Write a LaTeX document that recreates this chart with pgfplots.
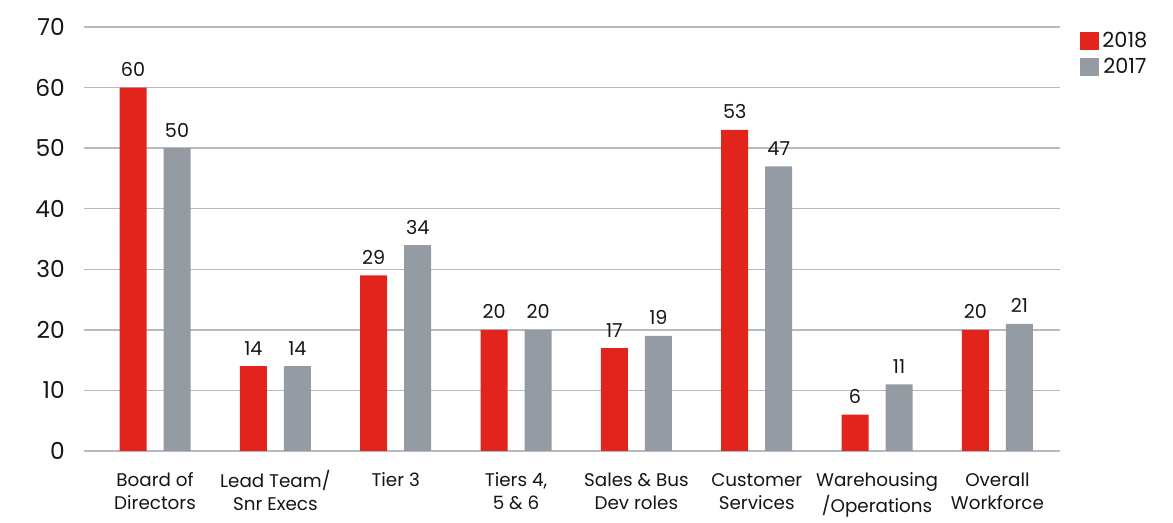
\documentclass[border=0pt]{standalone}
\usepackage{pgfplots}
\pgfplotsset{compat=1.18}
\usepackage{fontspec}
\setmainfont{Poppins}
\definecolor{barred}{HTML}{E2251C}
\definecolor{bargray}{HTML}{949BA2}
\definecolor{gridgray}{HTML}{B4BAC0}
\definecolor{txt}{HTML}{151515}

\begin{document}
\begin{tikzpicture}
\begin{axis}[
    scale only axis,
    width=585.6pt,
    height=254.4pt,
    ybar=10.2pt,
    bar width=16.2pt,
    ymin=0, ymax=70,
    xmin=-0.59, xmax=7.52,
    ytick={0,10,...,70},
    xtick={0,...,7},
    xticklabels={{\strut Board of\\Directors}, {\strut Lead Team/\\Snr Execs}, {\strut Tier 3}, {\strut Tiers 4,\\5 \& 6},
                 {\strut Sales \& Bus\\Dev roles}, {\strut Customer\\Services}, {\strut Warehousing\\/Operations},
                 {\strut Overall\\Workforce}},
    xticklabel style={align=center, font=\fontsize{11}{14}\selectfont, text=txt, anchor=north, yshift=-8pt},
    yticklabel style={font=\fontsize{14}{16}\selectfont, text=txt, xshift=-8pt},
    /pgf/number format/assume math mode=true,
    axis line style={draw=none},
    major tick length=0pt,
    ymajorgrids=true,
    grid style={gridgray, line width=0.8pt},
    nodes near coords,
    every node near coord/.append style={font=\fontsize{11.5}{13}\selectfont, text=txt, yshift=3pt},
    legend style={at={(1.015,1.005)}, anchor=north west, draw=none, fill=none,
                  font=\fontsize{12.5}{14}\selectfont, text=txt, row sep=1pt,
                  /tikz/every even column/.append style={column sep=2pt}},
    legend image code/.code={\fill[#1] (0pt,-5.5pt) rectangle (11.5pt,5.5pt);},
    clip=false,
]
\addplot[fill=barred, draw=none] coordinates {
  (0,60) (1,14) (2,29) (3,20) (4,17) (5,53) (6,6) (7,20)
};
\addplot[fill=bargray, draw=none] coordinates {
  (0,50) (1,14) (2,34) (3,20) (4,19) (5,47) (6,11) (7,21)
};
\legend{2018, 2017}
\path (rel axis cs:-0.0861,-0.158) rectangle (rel axis cs:1.1158,1.0637);
\end{axis}
\end{tikzpicture}
\end{document}
